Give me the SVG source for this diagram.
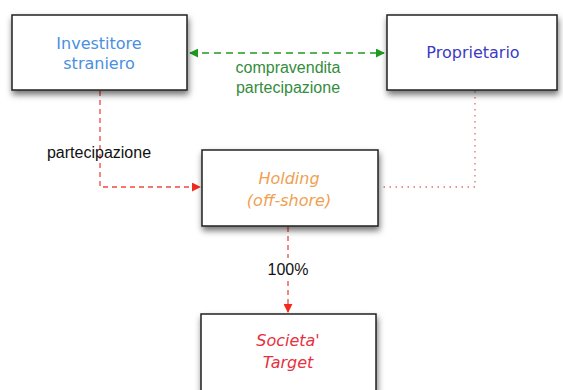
<svg xmlns="http://www.w3.org/2000/svg" width="563" height="390" viewBox="0 0 563 390">
<defs>
<filter id="sh" x="-10%" y="-10%" width="125%" height="140%">
<feDropShadow dx="1" dy="4" stdDeviation="3" flood-color="#000" flood-opacity="0.55"/>
</filter>
<marker id="ar" viewBox="0 0 10 10" refX="9" refY="5" markerWidth="9" markerHeight="9" markerUnits="userSpaceOnUse" orient="auto">
<path d="M0,0 L10,5 L0,10 z" fill="#f02a1e"/>
</marker>
<marker id="ag" viewBox="0 0 10 10" refX="9" refY="5" markerWidth="9" markerHeight="9" markerUnits="userSpaceOnUse" orient="auto-start-reverse">
<path d="M0,0 L10,5 L0,10 z" fill="#1e9a1e"/>
</marker>
</defs>
<style>
.box{fill:#fff;stroke:#222;stroke-width:1.5;filter:url(#sh)}
.nt{font-family:"DejaVu Sans",Verdana,sans-serif;font-size:16px;text-anchor:middle}
.it{font-style:italic}
.lb{font-family:"Liberation Sans",Arial,sans-serif;font-size:16px;text-anchor:middle}
.red{fill:none;stroke:#f0483c;stroke-width:1.3;stroke-dasharray:5,4}
</style>
<rect width="563" height="390" fill="#fff"/>
<g id="connectors">
<line x1="190" y1="53" x2="384" y2="53" stroke="#1e9a1e" stroke-width="1.5" stroke-dasharray="7,5" marker-start="url(#ag)" marker-end="url(#ag)"/>
<text class="lb" x="288" y="73" fill="#348c3c">compravendita</text>
<text class="lb" x="288" y="93" fill="#348c3c">partecipazione</text>
<polyline class="red" points="100,91 100,187 200,187" marker-end="url(#ar)"/>
<text class="lb" x="99" y="158" fill="#111">partecipazione</text>
<polyline points="475,91 475,187 379,187" fill="none" stroke="#e07070" stroke-width="1.3" stroke-dasharray="1.5,4.5"/>
<line class="red" x1="288" y1="227" x2="288" y2="312" marker-end="url(#ar)"/>
<rect x="262" y="258" width="52" height="20" fill="#fff"/>
<text class="lb" x="288" y="275" fill="#111">100%</text>
</g>
<g id="investitore">
<rect class="box" x="12" y="15" width="175" height="75"/>
<text class="nt" x="99" y="49" fill="#4a8fe0">Investitore</text>
<text class="nt" x="99" y="69" fill="#4a8fe0">straniero</text>
</g>
<g id="proprietario">
<rect class="box" x="387" y="15" width="170" height="75"/>
<text class="nt" x="473" y="58" fill="#3b3bc4">Proprietario</text>
</g>
<g id="holding">
<rect class="box" x="202" y="150" width="176" height="76"/>
<text class="nt it" x="289" y="184" fill="#f0a050">Holding</text>
<text class="nt it" x="289" y="206" fill="#f0a050">(off-shore)</text>
</g>
<g id="target">
<rect class="box" x="201" y="314" width="175" height="80"/>
<text class="nt it" x="288" y="346" fill="#e8303e">Societa'</text>
<text class="nt it" x="288" y="368" fill="#e8303e">Target</text>
</g>
</svg>
